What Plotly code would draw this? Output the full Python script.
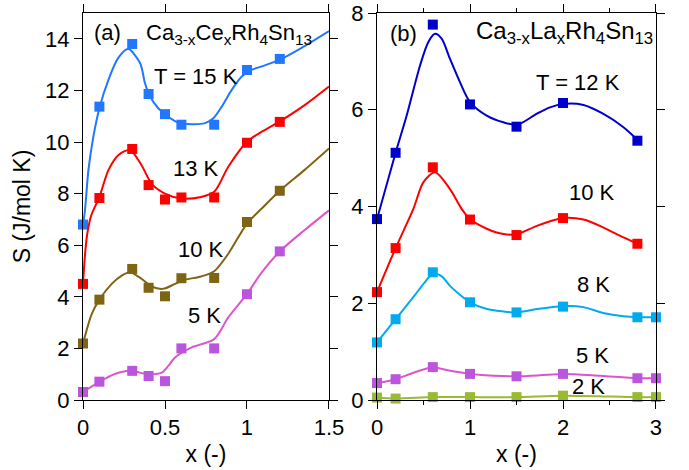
import plotly.graph_objects as go

# ---- (a) Ca(3-x)Ce(x)Rh4Sn13 : measured points ----
x_ce = [0, 0.1, 0.3, 0.4, 0.5, 0.6, 0.8, 1.0, 1.2]
s_ce_15 = [6.80, 11.37, 13.80, 11.86, 11.08, 10.67, 10.67, 12.79, 13.22]
s_ce_13 = [4.50, 7.83, 9.73, 8.33, 7.77, 7.85, 7.85, 9.97, 10.78]
s_ce_10 = [2.19, 3.89, 5.08, 4.35, 4.02, 4.72, 4.73, 6.90, 8.11]
s_ce_5 = [0.31, 0.71, 1.13, 0.93, 0.73, 2.00, 2.00, 4.10, 5.76]

# ---- (a) guide curves ----
fx_ce_15 = [0, 0.012, 0.033, 0.063, 0.1, 0.155, 0.215, 0.276, 0.348, 0.378, 0.409,
            0.459, 0.52, 0.581, 0.663, 0.744, 0.795, 0.846, 0.907, 0.968, 1.029,
            1.09, 1.2, 1.333, 1.5]
fy_ce_15 = [6.8, 7.35, 8.91, 10.2, 11.31, 12.41, 13.26, 13.6, 13.06, 12.28, 11.76,
            11.31, 10.98, 10.75, 10.69, 10.73, 10.92, 11.37, 12.02, 12.54, 12.80,
            12.93, 13.19, 13.65, 14.3]
fx_ce_13 = [0, 0.012, 0.025, 0.05, 0.1, 0.155, 0.215, 0.286, 0.357, 0.418, 0.5,
            0.6, 0.72, 0.8, 0.886, 1.0, 1.09, 1.2, 1.354, 1.5]
fy_ce_13 = [4.5, 5.6, 6.4, 7.15, 7.87, 8.91, 9.49, 9.69, 9.1, 8.39, 8.0,
            7.81, 7.87, 8.07, 9.04, 10.01, 10.4, 10.8, 11.44, 12.15]
fx_ce_10 = [0, 0.053, 0.1, 0.175, 0.236, 0.286, 0.357, 0.418, 0.489, 0.561, 0.622,
            0.72, 0.8, 0.886, 1.0, 1.09, 1.2, 1.35, 1.5]
fy_ce_10 = [2.19, 3.33, 3.89, 4.5, 4.82, 4.95, 4.7, 4.4, 4.31, 4.5, 4.66,
            4.79, 4.99, 5.67, 6.84, 7.42, 8.11, 8.91, 9.75]
fx_ce_5 = [0, 0.1, 0.19, 0.286, 0.4, 0.48, 0.52, 0.561, 0.663, 0.8, 0.886,
           1.0, 1.09, 1.2, 1.35, 1.5]
fy_ce_5 = [0.31, 0.70, 1.0, 1.13, 1.0, 1.06, 1.32, 1.65, 2.04, 2.36, 3.2,
           4.11, 4.95, 5.76, 6.58, 7.35]

# ---- (b) Ca(3-x)La(x)Rh4Sn13 : measured points ----
x_la = [0, 0.2, 0.6, 1.0, 1.5, 2.0, 2.8]
x_la_ext = [0, 0.2, 0.6, 1.0, 1.5, 2.0, 2.8, 3.0]
s_la_12 = [3.74, 5.11, 7.76, 6.11, 5.65, 6.14, 5.36]
s_la_10 = [2.23, 3.14, 4.81, 3.73, 3.41, 3.76, 3.23]
s_la_8 = [1.19, 1.67, 2.64, 2.02, 1.81, 1.93, 1.71, 1.71]
s_la_5 = [0.35, 0.43, 0.68, 0.54, 0.49, 0.54, 0.45, 0.45]
s_la_2 = [0.05, 0.03, 0.06, 0.06, 0.06, 0.09, 0.06, 0.06]

# ---- (b) guide curves ----
fx_la_12 = [0, 0.2, 0.319, 0.462, 0.552, 0.624, 0.695, 0.785, 0.892, 1.0, 1.18,
            1.36, 1.51, 1.72, 1.86, 2.0, 2.22, 2.43, 2.65, 2.8]
fy_la_12 = [3.74, 5.11, 5.88, 6.91, 7.40, 7.57, 7.47, 7.05, 6.57, 6.16, 5.88,
            5.74, 5.69, 5.92, 6.05, 6.12, 6.10, 5.92, 5.64, 5.38]
fx_la_10 = [0, 0.2, 0.391, 0.498, 0.624, 0.785, 0.91, 1.0, 1.18, 1.36, 1.51,
            1.72, 2.0, 2.22, 2.43, 2.65, 2.8]
fy_la_10 = [2.23, 3.14, 3.95, 4.50, 4.71, 4.36, 3.95, 3.74, 3.54, 3.43, 3.43,
            3.60, 3.76, 3.73, 3.57, 3.36, 3.23]
fx_la_8 = [0, 0.2, 0.4, 0.5, 0.606, 0.7, 0.785, 0.928, 1.0, 1.18, 1.36, 1.51,
           1.72, 2.0, 2.22, 2.43, 2.65, 2.8, 3.0]
fy_la_8 = [1.19, 1.67, 2.15, 2.40, 2.62, 2.55, 2.36, 2.12, 2.02, 1.88, 1.83, 1.81,
           1.88, 1.94, 1.92, 1.80, 1.73, 1.71, 1.71]
fx_la_5 = [0, 0.2, 0.4, 0.6, 0.8, 1.0, 1.25, 1.5, 1.75, 2.0, 2.4, 2.8, 3.0]
fy_la_5 = [0.35, 0.43, 0.57, 0.67, 0.60, 0.54, 0.50, 0.49, 0.51, 0.54, 0.50, 0.45, 0.45]

FONT = "Liberation Sans, Arial, sans-serif"
BLUE_A, RED, OLIVE = "#2277ff", "#ff0000", "#7f6414"
PINK_LINE, PINK_MARK = "#dd55cc", "#bb55dd"
BLUE_B, CYAN, GREEN = "#0000cc", "#00aaee", "#99bb33"

fig = go.Figure()


def add_series(xp, yp, xf, yf, line_col, mark_col, xa, ya):
    fig.add_trace(go.Scatter(x=xf, y=yf, mode="lines", xaxis=xa, yaxis=ya,
                             line=dict(color=line_col, width=2, shape="spline", smoothing=0.8),
                             cliponaxis=False, hoverinfo="skip"))
    fig.add_trace(go.Scatter(x=xp, y=yp, mode="markers", xaxis=xa, yaxis=ya,
                             marker=dict(symbol="square", size=10, color=mark_col),
                             cliponaxis=False))


add_series(x_ce, s_ce_15, fx_ce_15, fy_ce_15, BLUE_A, BLUE_A, "x", "y")
add_series(x_ce, s_ce_13, fx_ce_13, fy_ce_13, RED, RED, "x", "y")
add_series(x_ce, s_ce_10, fx_ce_10, fy_ce_10, OLIVE, OLIVE, "x", "y")
add_series(x_ce, s_ce_5, fx_ce_5, fy_ce_5, PINK_LINE, PINK_MARK, "x", "y")

add_series(x_la, s_la_12, fx_la_12, fy_la_12, BLUE_B, BLUE_B, "x2", "y2")
add_series(x_la, s_la_10, fx_la_10, fy_la_10, RED, RED, "x2", "y2")
add_series(x_la_ext, s_la_8, fx_la_8, fy_la_8, CYAN, CYAN, "x2", "y2")
add_series(x_la_ext, s_la_5, fx_la_5, fy_la_5, PINK_LINE, PINK_MARK, "x2", "y2")
add_series(x_la_ext, s_la_2, x_la_ext, s_la_2, GREEN, GREEN, "x2", "y2")

axis_common = dict(showline=True, linecolor="black", linewidth=1, mirror="ticks",
                   ticks="outside", ticklen=8, tickwidth=1, tickcolor="black",
                   showgrid=False, zeroline=False, automargin=False,
                   tickfont=dict(family=FONT, size=22, color="black"))

fig.update_layout(
    width=689, height=470,
    margin=dict(l=83, r=33, t=13, b=70),
    paper_bgcolor="white", plot_bgcolor="white",
    showlegend=False,
    font=dict(family=FONT, size=22, color="black"),
    xaxis=dict(domain=[0, 0.4293], range=[0, 1.5], dtick=0.5, anchor="y",
               title=dict(text="x (-)", font=dict(size=23), standoff=6), **axis_common),
    yaxis=dict(domain=[0, 1], range=[0, 15], dtick=2, anchor="x",
               title=dict(text="S (J/mol K)", font=dict(size=23), standoff=8), **axis_common),
    xaxis2=dict(domain=[0.5131, 1], range=[0, 3], dtick=1, anchor="y2",
                minor=dict(dtick=0.5, ticks="outside", ticklen=4, tickcolor="black"),
                title=dict(text="x (-)", font=dict(size=23), standoff=6), **axis_common),
    yaxis2=dict(domain=[0, 1], range=[0, 8], dtick=2, anchor="x2", **axis_common),
)

formula_ce = "Ca<sub>3-x</sub>Ce<sub>x</sub>Rh<sub>4</sub>Sn<sub>13</sub>"
formula_la = "Ca<sub>3-x</sub>La<sub>x</sub>Rh<sub>4</sub>Sn<sub>13</sub>"

# (axis refs, x, y, text, horizontal anchor, font size)
labels = [
    ("x", "y", 0.055, 14.25, "(a)", "left", 22),
    ("x", "y", 0.372, 14.2, formula_ce, "left", 22),
    ("x", "y", 0.686, 12.52, "T = 15 K", "center", 22),
    ("x", "y", 0.692, 8.96, "13 K", "center", 22),
    ("x", "y", 0.72, 5.83, "10 K", "center", 22),
    ("x", "y", 0.738, 3.26, "5 K", "center", 22),
    ("x2", "y2", 0.118, 7.57, "(b)", "left", 22),
    ("x2", "y2", 1.045, 7.6, formula_la, "left", 24),
    ("x2", "y2", 2.158, 6.56, "T = 12 K", "center", 22),
    ("x2", "y2", 2.31, 4.28, "10 K", "center", 22),
    ("x2", "y2", 2.326, 2.38, "8 K", "center", 22),
    ("x2", "y2", 2.32, 0.93, "5 K", "center", 22),
    ("x2", "y2", 2.27, 0.28, "2 K", "center", 22),
]
for xr, yr, xv, yv, txt, xanc, fs in labels:
    fig.add_annotation(x=xv, y=yv, xref=xr, yref=yr, text=txt, showarrow=False,
                       xanchor=xanc, yanchor="middle",
                       font=dict(family=FONT, size=fs, color="black"))

fig.write_html("out.html")
